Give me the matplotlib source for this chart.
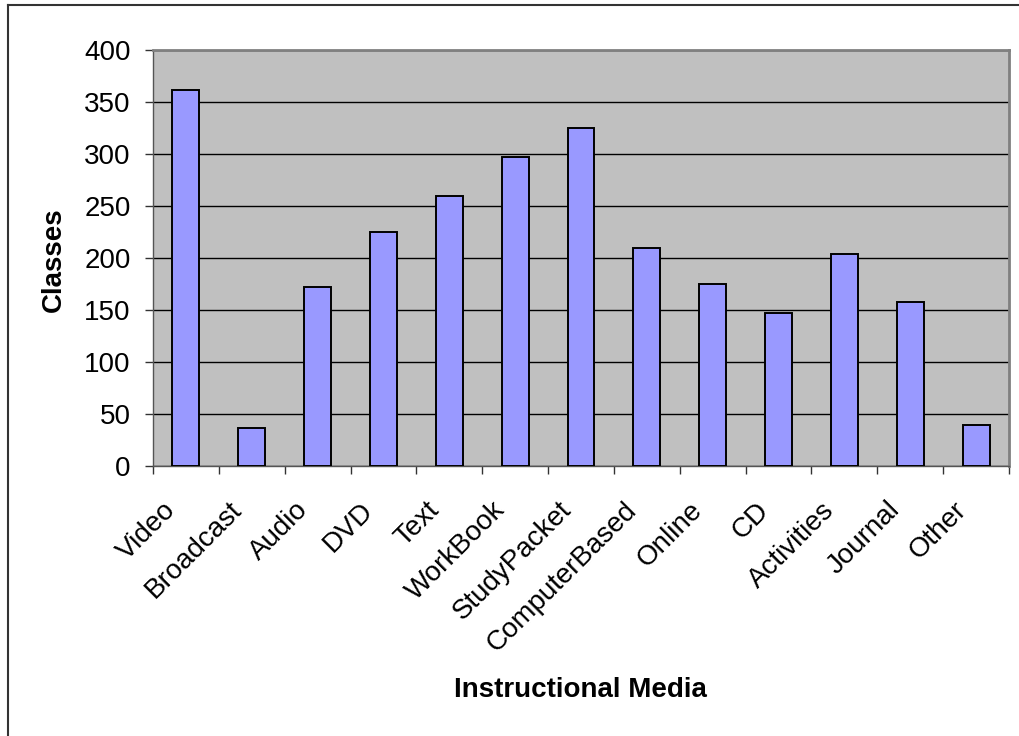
"""Instructional media usage per class -> out.png (bar chart, Excel-like look)."""
import matplotlib
matplotlib.use("Agg")
import matplotlib.pyplot as plt
from matplotlib.lines import Line2D
from matplotlib.transforms import ScaledTranslation

media = ["Video", "Broadcast", "Audio", "DVD", "Text", "WorkBook", "StudyPacket",
         "ComputerBased", "Online", "CD", "Activities", "Journal", "Other"]
classes = [362, 37, 172, 225, 260, 297, 325, 210, 175, 147, 204, 158, 39]
yticks = [0, 50, 100, 150, 200, 250, 300, 350, 400]

plt.rcParams["font.family"] = ["Liberation Sans", "DejaVu Sans"]

fig = plt.figure(figsize=(10.2, 7.36), dpi=100, facecolor="white")
ax = fig.add_axes([153 / 1020, 1 - 466 / 736, (1009 - 153) / 1020, (466 - 50) / 736])
ax.set_facecolor("#c0c0c0")

x = list(range(len(media)))
ax.bar(x, classes, width=0.41, color="#9999ff", edgecolor="black", linewidth=1.4, zorder=3)

ax.set_xlim(-0.5, len(media) - 0.5)
ax.set_ylim(0, 400)
ax.set_yticks(yticks)
ax.yaxis.grid(True, color="black", linewidth=1.0, zorder=1)
ax.set_axisbelow(True)

# category ticks sit between the bars
ax.set_xticks([i - 0.5 for i in range(len(media) + 1)])
ax.set_xticklabels([])
ax.tick_params(axis="x", length=6, width=1, color="#333333")
ax.tick_params(axis="y", length=6, width=1, color="#333333", labelsize=20, pad=10)

# rotated category labels, ending just left of each bar centre
shift = ax.get_xaxis_transform() + ScaledTranslation(-10 / 72, -29 / 72, fig.dpi_scale_trans)
for i, name in zip(x, media):
    ax.text(i, 0, name, transform=shift, rotation=45, rotation_mode="anchor",
            ha="right", va="center", fontsize=20, clip_on=False)

for side in ("top", "right"):
    ax.spines[side].set_color("#808080")
    ax.spines[side].set_linewidth(2)
for side in ("left", "bottom"):
    ax.spines[side].set_color("#555555")
    ax.spines[side].set_linewidth(1)

fig.text(54 / 1020, 1 - 260 / 736, "Classes", rotation=90, fontsize=20,
         fontweight="bold", ha="center", va="center")
fig.text(580 / 1020, 1 - 690 / 736, "Instructional Media", fontsize=20,
         fontweight="bold", ha="center", va="center")

# chart border (cropped at right and bottom)
fig.add_artist(Line2D([8 / 1020, 1.0], [1 - 5 / 736, 1 - 5 / 736],
                      transform=fig.transFigure, color="#333333", linewidth=1.5))
fig.add_artist(Line2D([8 / 1020, 8 / 1020], [0.0, 1 - 5 / 736],
                      transform=fig.transFigure, color="#333333", linewidth=1.5))

fig.savefig("out.png", dpi=100, facecolor="white")
